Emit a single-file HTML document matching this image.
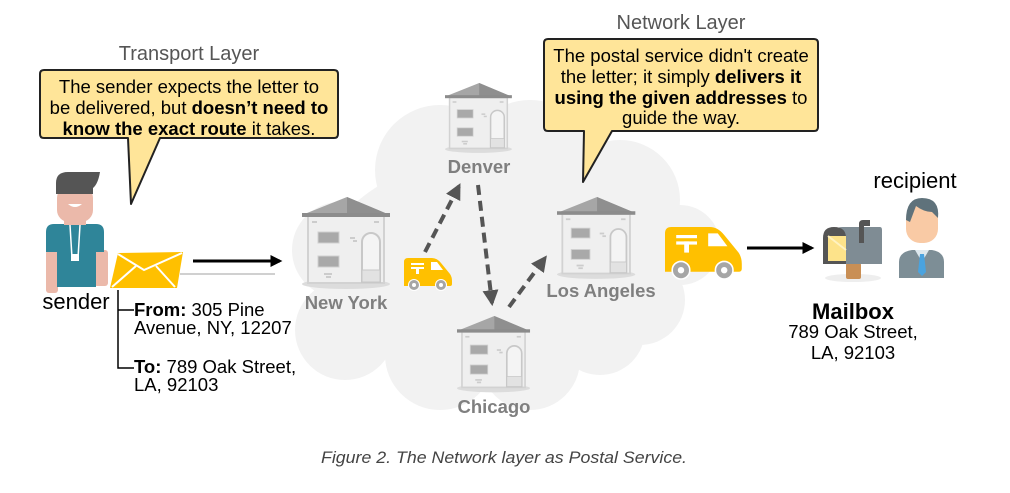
<!DOCTYPE html>
<html><head><meta charset="utf-8"><style>
html,body{margin:0;padding:0;background:#fff;}
svg{display:block;font-family:"Liberation Sans",sans-serif;}
</style></head><body>
<svg width="1010" height="493" viewBox="0 0 1010 493" xmlns="http://www.w3.org/2000/svg">
<defs>
<g id="house">
  <ellipse cx="44" cy="87" rx="44" ry="5" fill="#dcdcdc"/>
  <rect x="6" y="19" width="76" height="67" fill="#efefef" stroke="#d2d2d2" stroke-width="2"/>
  <polygon points="0,18 45,0 88,18" fill="#a6a6a6"/>
  <polygon points="45,0 88,18 45,18" fill="#8f8f8f"/>
  <rect x="0" y="16" width="88" height="4" fill="#8c8c8c"/>
  <rect x="16" y="35" width="21" height="11" fill="#a9a9a9" stroke="#d0d0d0"/>
  <rect x="16" y="59" width="21" height="11" fill="#a9a9a9" stroke="#d0d0d0"/>
  <path d="M60,85 V45 a9,9 0 0 1 18,0 V85 Z" fill="#f4f4f4" stroke="#c8c8c8" stroke-width="2"/>
  <rect x="60" y="73" width="18" height="12" fill="#e2e2e2" stroke="#c8c8c8"/>
  <rect x="10" y="24" width="5" height="2" fill="#ccc"/><rect x="72" y="24" width="5" height="2" fill="#ccc"/>
  <rect x="48" y="40" width="5" height="2" fill="#ccc"/><rect x="51" y="43" width="4" height="2" fill="#ccc"/>
  <rect x="22" y="76" width="8" height="2" fill="#ccc"/><rect x="24" y="79" width="5" height="2" fill="#ccc"/>
</g>
<g id="van">
  <path d="M0,4 Q0,0 4,0 H28 Q33,0 37,5 L46,16 Q48,19 48,23 V26 Q48,28 46,28 H0 Z" fill="#ffc000"/>
  <path d="M27,4 H33 L39,12 H27 Z" fill="#fff"/>
  <rect x="7" y="5" width="13" height="2" fill="#fff"/><rect x="7" y="9" width="13" height="2" fill="#fff"/><rect x="12" y="9" width="3" height="7" fill="#fff"/>
  <circle cx="10" cy="27" r="5.5" fill="#a6a6a6" stroke="#fff" stroke-width="1"/><circle cx="10" cy="27" r="2" fill="#fff"/>
  <circle cx="37" cy="27" r="5.5" fill="#a6a6a6" stroke="#fff" stroke-width="1"/><circle cx="37" cy="27" r="2" fill="#fff"/>
</g>
<marker id="ah" viewBox="0 0 10 10" refX="8" refY="5" markerWidth="4" markerHeight="4" orient="auto"><path d="M0,0 L10,5 L0,10 Z" fill="#555"/></marker>
<marker id="bh" viewBox="0 0 10 10" refX="8" refY="5" markerWidth="4" markerHeight="4" orient="auto"><path d="M0,0 L10,5 L0,10 Z" fill="#000"/></marker>
</defs>

<!-- cloud -->
<g fill="#f2f2f2">
  <ellipse cx="500" cy="265" rx="175" ry="110"/>
  <circle cx="340" cy="250" r="48"/>
  <circle cx="345" cy="330" r="50"/>
  <circle cx="440" cy="170" r="65"/>
  <circle cx="530" cy="165" r="65"/>
  <circle cx="620" cy="200" r="60"/>
  <circle cx="680" cy="245" r="40"/>
  <circle cx="640" cy="300" r="45"/>
  <circle cx="440" cy="355" r="55"/>
  <circle cx="530" cy="360" r="50"/>
  <circle cx="600" cy="330" r="45"/>
</g>

<!-- titles -->
<text x="189" y="60" font-size="20" fill="#555" text-anchor="middle">Transport Layer</text>
<text x="681" y="29" font-size="20" fill="#555" text-anchor="middle">Network Layer</text>

<!-- left bubble -->
<path d="M44,70 H334 Q338,70 338,74 V134 Q338,138 334,138 H160 L131,204 L128,138 H44 Q40,138 40,134 V74 Q40,70 44,70 Z" fill="#ffe599" stroke="#222" stroke-width="2" stroke-linejoin="round"/>
<g font-size="18.5" fill="#000" text-anchor="middle">
<text x="189" y="93">The sender expects the letter to</text>
<text x="189" y="114">be delivered, but <tspan font-weight="bold">doesn’t need to</tspan></text>
<text x="189" y="135"><tspan font-weight="bold">know the exact route</tspan> it takes.</text>
</g>

<!-- right bubble -->
<path d="M548,39 H814 Q818,39 818,43 V127 Q818,131 814,131 H612 L583,182 L584,131 H548 Q544,131 544,127 V43 Q544,39 548,39 Z" fill="#ffe599" stroke="#222" stroke-width="2" stroke-linejoin="round"/>
<g font-size="18.5" fill="#000" text-anchor="middle">
<text x="681" y="62">The postal service didn't create</text>
<text x="681" y="83">the letter; it simply <tspan font-weight="bold">delivers it</tspan></text>
<text x="681" y="104"><tspan font-weight="bold">using the given addresses</tspan> to</text>
<text x="681" y="124">guide the way.</text>
</g>

<!-- sender -->
<rect x="46" y="250" width="12" height="43" rx="3" fill="#ebb9aa"/>
<rect x="94" y="250" width="14" height="36" rx="3" fill="#ebb9aa"/>
<path d="M46,232 Q46,224 54,224 H96 Q104,224 104,232 V252 H96 V287 H57 V252 H46 Z" fill="#2f8599"/>
<rect x="57" y="186" width="36" height="36" rx="12" fill="#ebb9aa"/>
<rect x="64" y="215" width="22" height="10" fill="#ebb9aa"/>
<path d="M56,194 V183 Q56,172 68,172 H100 Q98,184 93,188 V194 Z" fill="#555"/>
<path d="M68,204 Q75,210 82,204 Z" fill="#fff"/>
<path d="M70,225 L72,258 M80,225 L78,258" stroke="#fff" stroke-width="1.5"/>
<rect x="71" y="254" width="8" height="7" fill="#fff"/>
<polygon points="118,253 183,252 177,288 110,288" fill="#ffc000"/>
<polyline points="118,254 144,270 182,253" fill="none" stroke="#fff" stroke-width="2"/>
<path d="M112,287 L136,266 M175,287 L156,266" stroke="#fff" stroke-width="2"/>
<text x="76" y="309" font-size="22" fill="#000" text-anchor="middle">sender</text>

<line x1="193" y1="261" x2="280" y2="261" stroke="#000" stroke-width="3" marker-end="url(#bh)"/>
<line x1="180" y1="274" x2="275" y2="274" stroke="#d0d0d0" stroke-width="2"/>

<path d="M118,290 V368 H134 M118,310 H134" fill="none" stroke="#000" stroke-width="1.5"/>
<g font-size="18.5" fill="#000">
<text x="134" y="316"><tspan font-weight="bold">From:</tspan> 305 Pine</text>
<text x="134" y="334">Avenue, NY, 12207</text>
<text x="134" y="373"><tspan font-weight="bold">To:</tspan> 789 Oak Street,</text>
<text x="134" y="391">LA, 92103</text>
</g>

<!-- houses -->
<use href="#house" transform="translate(302,197)"/>
<use href="#house" transform="translate(445,83) scale(0.76)"/>
<use href="#house" transform="translate(557,197) scale(0.89)"/>
<use href="#house" transform="translate(457,316) scale(0.83)"/>
<g font-size="18.5" font-weight="bold" fill="#7f7f7f" text-anchor="middle">
<text x="346" y="309">New York</text>
<text x="479" y="173">Denver</text>
<text x="601" y="297">Los Angeles</text>
<text x="494" y="413">Chicago</text>
</g>

<!-- vans -->
<use href="#van" transform="translate(404,258)"/>
<use href="#van" transform="translate(665,227) scale(1.6)"/>

<!-- dashed arrows -->
<g stroke="#555" stroke-width="4" stroke-dasharray="10,6" fill="none">
<line x1="425" y1="252" x2="459" y2="186" marker-end="url(#ah)"/>
<line x1="478" y1="185" x2="492" y2="303" marker-end="url(#ah)"/>
<line x1="509" y1="307" x2="545" y2="258" marker-end="url(#ah)"/>
</g>

<line x1="747" y1="248" x2="812" y2="248" stroke="#000" stroke-width="3" marker-end="url(#bh)"/>

<!-- mailbox -->
<ellipse cx="853" cy="278" rx="28" ry="4" fill="#eee"/>
<rect x="846" y="263" width="15" height="16" rx="2" fill="#c98f55"/>
<path d="M832,264 V236 Q832,227 843,227 H880 Q882,227 882,230 V264 Z" fill="#7f8c94"/>
<path d="M823,264 V238 Q823,227 834,227 Q846,227 846,238 V264 Z" fill="#555"/>
<rect x="828" y="236" width="18" height="25" fill="#fde38a"/>
<path d="M828,236 L846,250" stroke="#fff2c0" stroke-width="2"/>
<path d="M859,243 V224 Q859,220 863,220 H870 V226 H864 V243 Z" fill="#555"/>

<!-- recipient -->
<path d="M899,278 V262 Q899,252 912,250 H932 Q944,252 944,262 V278 Z" fill="#7d8e96"/>
<polygon points="915,250 929,250 922,262" fill="#dde8ee"/>
<polygon points="920,254 924,254 926,272 922,276 918,272" fill="#4aa3df"/>
<rect x="906" y="205" width="32" height="38" rx="14" fill="#f9caa5"/>
<path d="M906,220 Q906,198 922,198 Q940,198 938,218 L932,212 Q924,212 916,206 L910,222 Z" fill="#5f727b"/>
<text x="915" y="188" font-size="22" fill="#000" text-anchor="middle">recipient</text>

<text x="853" y="319" font-size="22" font-weight="bold" fill="#000" text-anchor="middle">Mailbox</text>
<g font-size="18.5" fill="#000" text-anchor="middle">
<text x="853" y="338">789 Oak Street,</text>
<text x="853" y="359">LA, 92103</text>
</g>

<text x="504" y="463" font-size="17" font-style="italic" fill="#444" text-anchor="middle" textLength="366" lengthAdjust="spacingAndGlyphs">Figure 2. The Network layer as Postal Service.</text>
</svg>
</body></html>
